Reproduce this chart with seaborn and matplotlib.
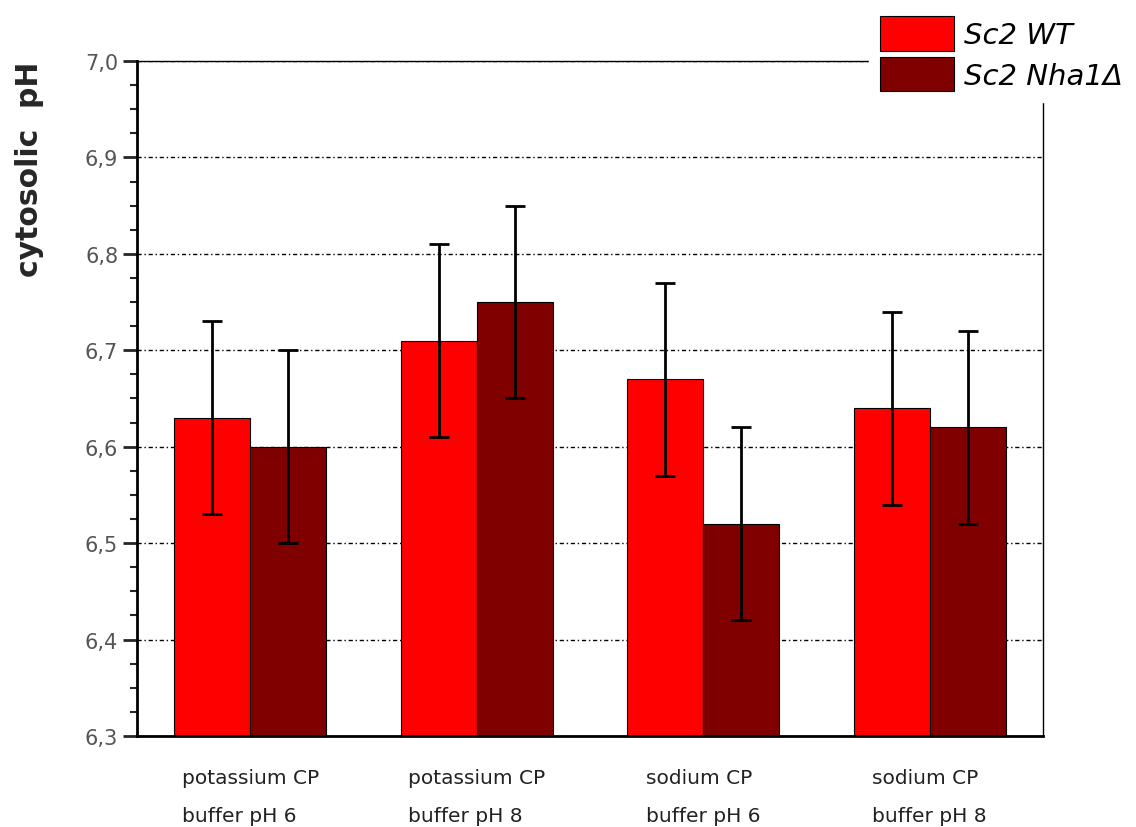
import seaborn as sns
import pandas as pd
import matplotlib.pyplot as plt
from matplotlib.patches import Patch
from matplotlib.ticker import MultipleLocator

# values
conditions = ["potassium CP\nbuffer pH 6", "potassium CP\nbuffer pH 8",
              "sodium CP\nbuffer pH 6", "sodium CP\nbuffer pH 8"]
strains = ["Sc2 WT", "Sc2 Nha1\u0394"]
wt_ph = [6.63, 6.71, 6.67, 6.64]
nha1_ph = [6.60, 6.75, 6.52, 6.62]
wt_err = [0.10, 0.10, 0.10, 0.10]
nha1_err = [0.10, 0.10, 0.10, 0.10]
colors = ["#ff0000", "#800000"]

df = pd.DataFrame({
    "condition": conditions * 2,
    "strain": [strains[0]] * 4 + [strains[1]] * 4,
    "ph": wt_ph + nha1_ph,
    "err": wt_err + nha1_err,
})

sns.set_style("white")
plt.rcParams['font.family'] = ['DejaVu Sans']

fig = plt.figure(figsize=(11.36, 8.28), dpi=100)
ax = fig.add_axes([137 / 1136, 1 - 737 / 828, (1043 - 137) / 1136, (737 - 62) / 828])

sns.barplot(data=df, x="condition", y="ph", hue="strain", palette=colors,
            width=0.67, errorbar=None, edgecolor="black", linewidth=0.8,
            saturation=1, ax=ax, legend=False, zorder=2)

# error bars at bar centres
for cont, errs in zip(ax.containers, [wt_err, nha1_err]):
    xs = [p.get_x() + p.get_width() / 2 for p in cont]
    ys = [p.get_height() for p in cont]
    ax.errorbar(xs, ys, yerr=errs, fmt="none", ecolor="black", elinewidth=2,
                capsize=7, capthick=2, zorder=3)

ax.set_ylim(6.3, 7.0)
ax.set_xlim(-0.5, 3.5)
ax.yaxis.set_major_locator(MultipleLocator(0.1))
ax.yaxis.set_minor_locator(MultipleLocator(0.025))
ax.yaxis.set_major_formatter(lambda v, pos: f"{v:.1f}".replace(".", ","))
ax.tick_params(axis="y", which="major", direction="out", length=10, width=2,
               labelsize=15, labelcolor="#555555", left=True)
ax.tick_params(axis="y", which="minor", direction="out", length=5, width=1.5, left=True)
ax.tick_params(axis="x", length=0, labelsize=14.5, pad=23, labelcolor="#222222")
for lab in ax.get_xticklabels():
    lab.set_linespacing(2.25)
    lab.set_multialignment("left")

ax.yaxis.grid(True, linestyle=(0, (3, 2, 1, 2)), color="black", linewidth=1)
ax.set_axisbelow(True)

for side in ["left", "bottom"]:
    ax.spines[side].set_linewidth(2)
for side in ["top", "right"]:
    ax.spines[side].set_linewidth(1)
for s in ax.spines.values():
    s.set_color("black")

ax.set_xlabel("")
ax.set_ylabel("cytosolic  pH", fontsize=21.5, fontweight="bold", loc="top")
ax.yaxis.set_label_coords(-93 / 906, 1.0)

handles = [Patch(facecolor=c, edgecolor="black", linewidth=0.8) for c in colors]
leg = fig.legend(handles, strains, loc="upper right", bbox_to_anchor=(1.0, 0.995),
                 fontsize=21, handlelength=2.55, handleheight=1.45,
                 labelspacing=0.2, handletextpad=0.35, borderpad=0.35,
                 borderaxespad=0.1, frameon=True, fancybox=False,
                 edgecolor="white", framealpha=1)
for t in leg.get_texts():
    t.set_style("italic")
    t.set_color("black")

fig.savefig("out.png", dpi=100)
